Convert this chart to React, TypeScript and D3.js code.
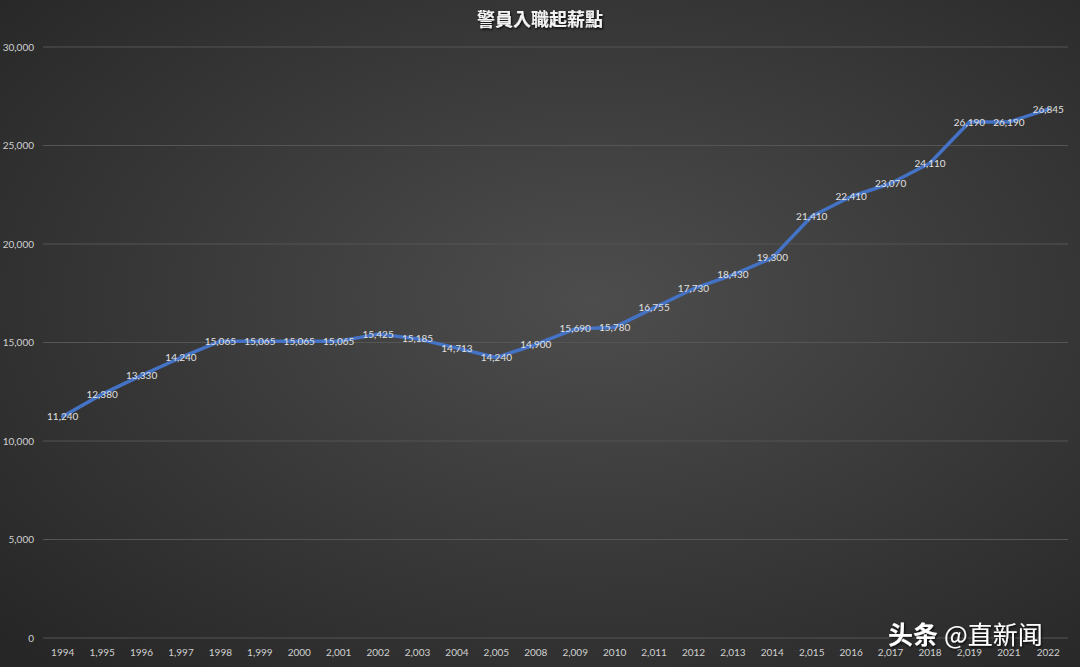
import React, { useEffect } from 'react';
import * as d3 from 'd3';

const yearLabels = ['1994', '1,995', '1996', '1,997', '1998', '1,999', '2000', '2,001', '2002', '2,003', '2004', '2,005', '2008', '2,009', '2010', '2,011', '2012', '2,013', '2014', '2,015', '2016', '2,017', '2018', '2,019', '2021', '2022'];
const salaries = [11240, 12380, 13330, 14240, 15065, 15065, 15065, 15065, 15425, 15185, 14713, 14240, 14900, 15690, 15780, 16755, 17730, 18430, 19300, 21410, 22410, 23070, 24110, 26190, 26190, 26845];
const yTicks = [0, 5000, 10000, 15000, 20000, 25000, 30000];

const W = 1080;
const H = 667;
const margin = { top: 47, right: 12, bottom: 29, left: 43 };

const App: React.FC = () => {
  useEffect(() => {
    document.body.style.margin = '0';
  }, []);

  const x = d3.scaleBand<string>()
    .domain(yearLabels)
    .range([margin.left, W - margin.right]);

  const y = d3.scaleLinear()
    .domain([0, 30000])
    .range([H - margin.bottom, margin.top]);

  const cx = (i: number) => (x(yearLabels[i]) as number) + x.bandwidth() / 2;

  const line = d3.line<number>()
    .x((_, i) => cx(i))
    .y(d => y(d));

  const fmt = d3.format(',');
  const font = 'Lato, "Open Sans", sans-serif';

  return (
    <svg width={W} height={H} style={{ display: 'block' }}>
      <defs>
        <radialGradient id="bg" cx="55%" cy="45%" r="75%">
          <stop offset="0%" stopColor="#4d4d4d" />
          <stop offset="100%" stopColor="#262626" />
        </radialGradient>
        <filter id="shadow" x="-10%" y="-30%" width="120%" height="160%">
          <feDropShadow dx="1" dy="1.5" stdDeviation="1" floodColor="#000" floodOpacity="0.8" />
        </filter>
      </defs>
      <rect width={W} height={H} fill="url(#bg)" />

      {/* quadrillage et graduations */}
      {yTicks.map(t => (
        <g key={t}>
          <line x1={margin.left} x2={W - margin.right} y1={y(t)} y2={y(t)} stroke="#555555" strokeWidth={1} />
          <text x={34} y={y(t)} dy="0.35em" textAnchor="end" fill="#d0d0d0" fontSize={10} fontFamily={font}>
            {fmt(t)}
          </text>
        </g>
      ))}

      {yearLabels.map((lab, i) => (
        <text key={lab + i} x={cx(i)} y={656} textAnchor="middle" fill="#d0d0d0" fontSize={10} fontFamily={font}>
          {lab}
        </text>
      ))}

      <path d={line(salaries) as string} fill="none" stroke="#4472c4" strokeWidth={3.5} strokeLinejoin="round" strokeLinecap="round" />

      {salaries.map((v, i) => (
        <text key={i} x={cx(i)} y={y(v)} dy="0.35em" textAnchor="middle" fill="#e0e0e0" fontSize={10} fontFamily={font}>
          {fmt(v)}
        </text>
      ))}

      <text x={W / 2} y={26} textAnchor="middle" fill="#f2f2f2" fontSize={18} fontWeight="bold"
        fontFamily={'"Noto Sans CJK TC", sans-serif'} filter="url(#shadow)">
        警員入職起薪點
      </text>

      <text x={888} y={644} fill="#ffffff" fontSize={25} fontFamily={'"Noto Sans CJK SC", sans-serif'} filter="url(#shadow)">
        <tspan fontWeight="bold">头条</tspan>
        <tspan dx={6}>@直新闻</tspan>
      </text>
    </svg>
  );
};

export default App;
